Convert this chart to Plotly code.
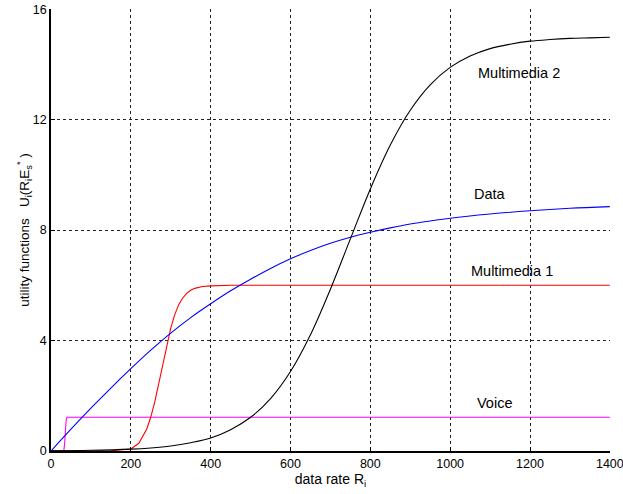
import plotly.graph_objects as go

# ---- data ----
mm2_x = [0, 100, 200, 250, 300, 350, 400, 450, 500, 550, 600, 650, 700, 750, 800, 850, 900, 950,
         1000, 1050, 1100, 1150, 1200, 1250, 1300, 1350, 1400]
mm2_y = [0.01, 0.025, 0.068, 0.11, 0.18, 0.30, 0.47, 0.77, 1.22, 1.90, 2.88, 4.21, 5.86, 7.68, 9.49,
         11.08, 12.34, 13.26, 13.89, 14.30, 14.57, 14.73, 14.84, 14.90, 14.94, 14.96, 14.98]

data_x = [0, 50, 100, 150, 200, 250, 300, 350, 400, 450, 500, 550, 600, 650, 700, 750, 800, 850, 900,
          950, 1000, 1100, 1200, 1300, 1400]
data_y = [0, 0.79, 1.55, 2.28, 2.98, 3.65, 4.27, 4.83, 5.33, 5.80, 6.22, 6.61, 6.96, 7.26, 7.52, 7.74,
          7.92, 8.08, 8.22, 8.33, 8.43, 8.58, 8.70, 8.79, 8.85]

mm1_x = [0, 150, 200, 220, 240, 250, 260, 270, 280, 290, 300, 310, 320, 330, 340, 350, 360, 380, 400,
         450, 1400]
mm1_y = [0, 0.01, 0.07, 0.28, 0.80, 1.23, 1.78, 2.43, 3.14, 3.84, 4.45, 4.94, 5.30, 5.54, 5.71, 5.82,
         5.89, 5.955, 5.98, 6.0, 6.0]

voice_x = [0, 32, 34, 36, 38, 40, 1400]
voice_y = [0, 0, 0.25, 0.75, 1.12, 1.22, 1.22]

labels = ["Multimedia 2", "Data", "Multimedia 1", "Voice"]
label_x = [1173, 1100, 1156, 1112]
label_y = [13.7, 9.3, 6.53, 1.73]

x_ticks = [0, 200, 400, 600, 800, 1000, 1200, 1400]
y_ticks = [0, 4, 8, 12, 16]

FONT = "Liberation Sans, Arial, sans-serif"

fig = go.Figure()
fig.add_trace(go.Scatter(x=voice_x, y=voice_y, mode="lines", line=dict(color="#ff00ff", width=1.1)))
fig.add_trace(go.Scatter(x=mm1_x, y=mm1_y, mode="lines", line=dict(color="#ff0000", width=1.1)))
fig.add_trace(go.Scatter(x=data_x, y=data_y, mode="lines", line=dict(color="#0000ff", width=1.1, shape="spline")))
fig.add_trace(go.Scatter(x=mm2_x, y=mm2_y, mode="lines", line=dict(color="#000000", width=1.1, shape="spline")))

for t, xx, yy in zip(labels, label_x, label_y):
    fig.add_annotation(x=xx, y=yy, text=t, showarrow=False,
                       font=dict(family=FONT, size=14.5, color="black"))

axis_common = dict(
    showgrid=True, gridcolor="#222222", gridwidth=1, griddash="3px,3px",
    showline=True, linecolor="black", linewidth=1.5,
    ticks="inside", ticklen=4, tickcolor="black",
    zeroline=False, automargin=False, ticklabeloverflow="allow",
    tickfont=dict(family=FONT, size=12.5, color="black"),
)

fig.update_layout(
    width=623, height=494,
    margin=dict(l=51, r=13, t=9, b=43, autoexpand=False),
    paper_bgcolor="white", plot_bgcolor="white",
    showlegend=False,
    font=dict(family=FONT, color="black"),
    xaxis=dict(range=[0, 1400.4], tickvals=x_ticks,
               title=dict(text="data rate R<sub>i</sub>", font=dict(size=14), standoff=1),
               **axis_common),
    yaxis=dict(range=[0, 16.005], tickvals=y_ticks,
               title=dict(text="utility functions&nbsp;&nbsp;&nbsp;U<sub>i</sub>(R<sub>i</sub>E<sub>s</sub><sup>*</sup>&nbsp;)",
                          font=dict(size=13.5), standoff=0),
               **axis_common),
)

fig.write_html("out.html", config={"displayModeBar": False},
               post_script="document.body.style.margin='0';")
